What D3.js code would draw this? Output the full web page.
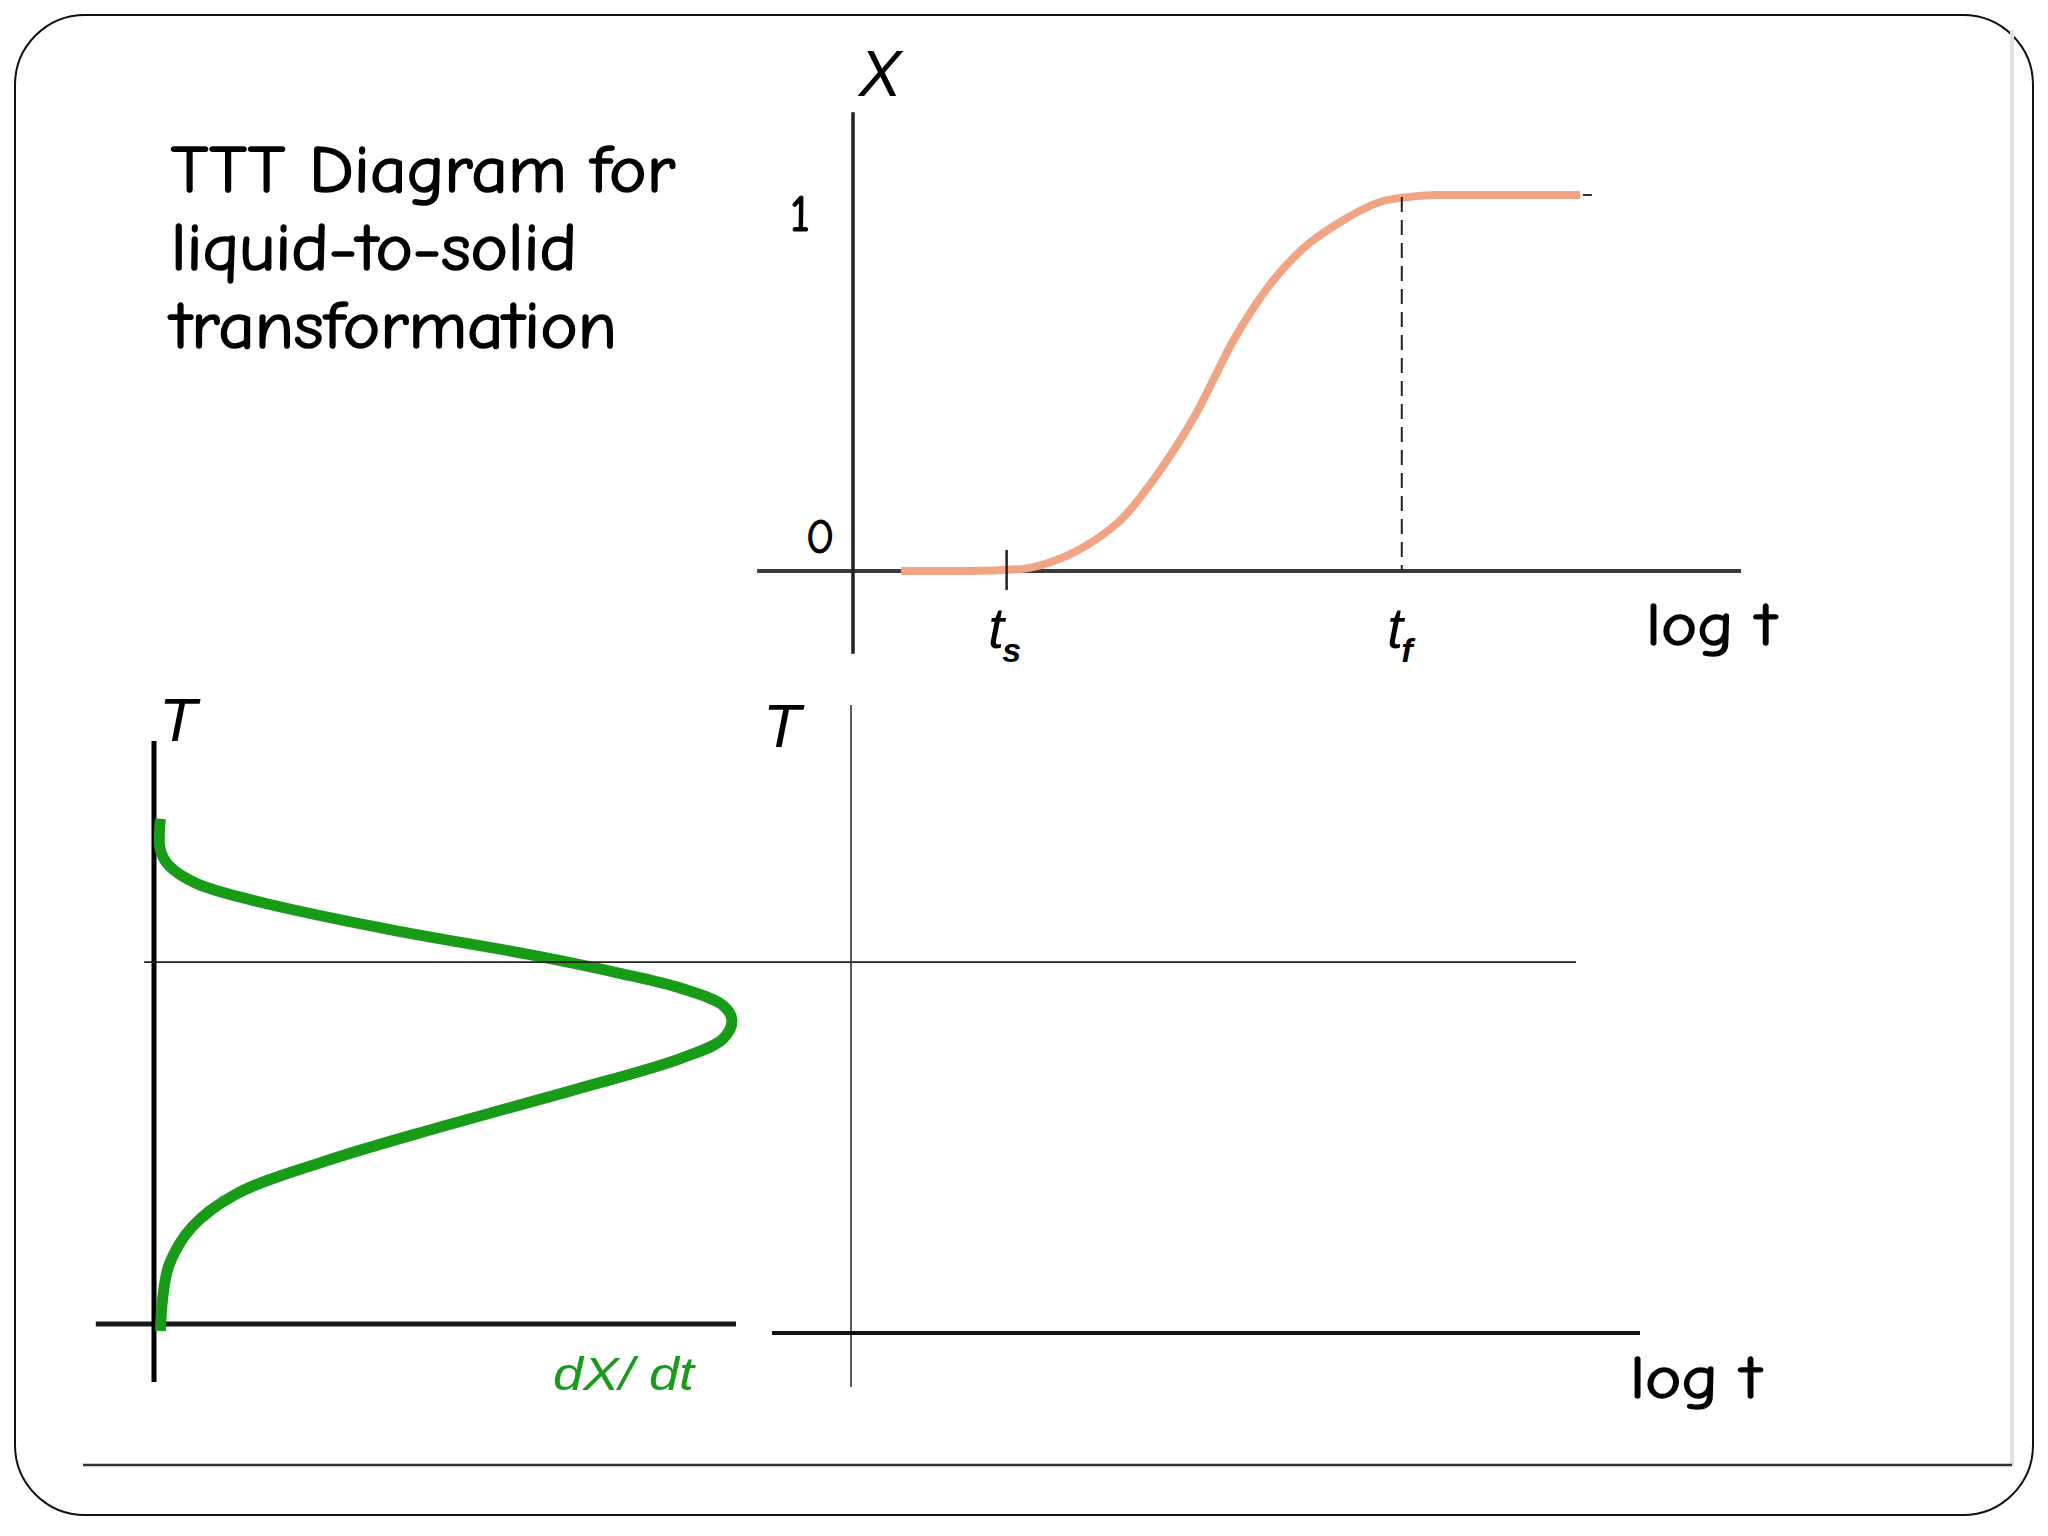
<!DOCTYPE html>
<html>
<head>
<meta charset="utf-8">
<script src="https://cdn.jsdelivr.net/npm/d3@7"></script>
<style>
  html, body { margin: 0; padding: 0; background: #ffffff; }
  svg { display: block; }
</style>
</head>
<body>
<svg id="chart" width="2048" height="1536"></svg>
<script>
// ---------------- DATA ----------------
// Top panel: fraction transformed X vs log t (arbitrary log-time units)
const topLogT = [0.54, 1.30, 1.89, 2.27, 2.73, 3.03, 3.40, 3.85, 4.31, 4.68, 5.06, 5.52, 5.97, 6.27, 6.57, 8.19];
const topX    = [0.000, 0.000, 0.005, 0.027, 0.083, 0.139, 0.248, 0.413, 0.624, 0.757, 0.856, 0.933, 0.984, 0.995, 1.000, 1.000];
const topTickValues = [1.73, 6.18];          // t_s, t_f
const topTickLabels = ["t", "t"];
const topTickSubs   = ["s", "f"];
const topYTickValues = [0, 1];
const topYTickLabels = ["0", "1"];

// Bottom-left panel: transformation rate dX/dt vs temperature T (arbitrary units)
const rateT    = [87.1, 81.7, 79.0, 76.0, 72.8, 67.9, 63.8, 60.6, 57.8, 54.9, 52.4, 49.2, 45.9, 40.2, 33.8, 28.1, 22.4, 16.7, 10.2, 4.5, -1.2];
const rateDXdt = [1.1, 1.1, 2.6, 7.2, 18.0, 41.0, 63.9, 79.4, 90.8, 97.8, 99.3, 97.8, 90.8, 71.6, 48.6, 29.5, 14.1, 6.5, 2.6, 1.5, 1.1];
const refLineT = [62.4];                     // horizontal reference temperature

const titleLines = ["TTT Diagram for", "liquid-to-solid", "transformation"];

// ---------------- DRAWING ----------------
const svg = d3.select("#chart");
const handFont = "'Comic Sans MS','Comic Neue','DejaVu Sans',sans-serif";
const italFont = "'Liberation Sans','Arial',sans-serif";

// slide frame
svg.append("rect").attr("x", 15).attr("y", 15).attr("width", 2018).attr("height", 1500)
  .attr("rx", 70).attr("ry", 70).attr("fill", "#ffffff").attr("stroke", "#111").attr("stroke-width", 2);
svg.append("line").attr("x1", 2012).attr("x2", 2012).attr("y1", 30).attr("y2", 1466)
  .attr("stroke", "#e2e2e2").attr("stroke-width", 4);
svg.append("line").attr("x1", 83).attr("x2", 2012).attr("y1", 1465).attr("y2", 1465)
  .attr("stroke", "#333").attr("stroke-width", 2.5);

// title
const titleW = [504, 406, 446];
svg.append("g").selectAll("text").data(titleLines).join("text")
  .attr("x", 171).attr("y", (d, i) => 192 + i * 78)
  .attr("font-family", handFont).attr("font-size", 66).attr("fill", "#000")
  .attr("stroke", "#000").attr("stroke-width", 1.6)
  .attr("textLength", (d, i) => titleW[i]).attr("lengthAdjust", "spacingAndGlyphs")
  .text(d => d);

// ---------- top panel ----------
const xTop = d3.scaleLinear().domain([0, 10]).range([853, 1741]);
const yTop = d3.scaleLinear().domain([0, 1]).range([571, 195]);
const gTop = svg.append("g");

// axes
gTop.append("line").attr("x1", xTop(-1.08)).attr("x2", xTop(10)).attr("y1", yTop(0)).attr("y2", yTop(0))
  .attr("stroke", "#3a3a3a").attr("stroke-width", 4);
gTop.append("line").attr("x1", xTop(0)).attr("x2", xTop(0)).attr("y1", yTop(1.22)).attr("y2", yTop(-0.22))
  .attr("stroke", "#222").attr("stroke-width", 3.5);

// curve
const topData = topLogT.map((v, i) => ({ t: v, x: topX[i] }));
gTop.append("path").datum(topData)
  .attr("d", d3.line().x(d => xTop(d.t)).y(d => yTop(d.x)).curve(d3.curveMonotoneX))
  .attr("fill", "none").attr("stroke", "#f0a483").attr("stroke-width", 8).attr("stroke-linecap", "butt");
gTop.append("line").attr("x1", xTop(8.22)).attr("x2", xTop(8.32)).attr("y1", yTop(1)).attr("y2", yTop(1))
  .attr("stroke", "#333").attr("stroke-width", 2);

// t_s tick, t_f dashed line
gTop.append("line").attr("x1", xTop(topTickValues[0])).attr("x2", xTop(topTickValues[0]))
  .attr("y1", yTop(0) - 21).attr("y2", yTop(0) + 19).attr("stroke", "#222").attr("stroke-width", 2.5);
gTop.append("line").attr("x1", xTop(topTickValues[1])).attr("x2", xTop(topTickValues[1]))
  .attr("y1", yTop(0.995)).attr("y2", yTop(0)).attr("stroke", "#222").attr("stroke-width", 2)
  .attr("stroke-dasharray", "15,8");

// tick labels t_s, t_f
topTickValues.forEach((v, i) => {
  const t = gTop.append("text").attr("x", xTop(v) - 2).attr("y", 648)
    .attr("font-family", italFont).attr("font-style", "italic").attr("font-size", 58)
    .attr("text-anchor", "middle").attr("fill", "#000");
  t.append("tspan").text(topTickLabels[i]);
  t.append("tspan").attr("font-size", 34).attr("font-weight", "bold").attr("dx", -2).attr("dy", 14).text(topTickSubs[i]);
});

// y tick labels
gTop.append("text").attr("x", 800).attr("y", yTop(1) + 36).attr("text-anchor", "middle")
  .attr("font-family", handFont).attr("font-size", 52).attr("fill", "#000")
  .attr("stroke", "#000").attr("stroke-width", 1.2).text(topYTickLabels[1]);
gTop.append("text").attr("x", 820).attr("y", yTop(0) - 18).attr("text-anchor", "middle")
  .attr("font-family", handFont).attr("font-size", 48).attr("fill", "#000")
  .attr("stroke", "#000").attr("stroke-width", 1).text(topYTickLabels[0]);

// axis labels
gTop.append("text").attr("x", 880).attr("y", 96).attr("text-anchor", "middle")
  .attr("font-family", italFont).attr("font-style", "italic").attr("font-size", 64).attr("fill", "#000").text("X");
gTop.append("text").attr("x", 1646).attr("y", 645)
  .attr("font-family", handFont).attr("font-size", 60).attr("fill", "#000")
  .attr("stroke", "#000").attr("stroke-width", 1.4)
  .attr("textLength", 130).attr("lengthAdjust", "spacingAndGlyphs").text("log t");

// ---------- bottom-left panel ----------
const xRate = d3.scaleLinear().domain([0, 100]).range([154, 736]);
const yT = d3.scaleLinear().domain([0, 100]).range([1324, 744]);
const gBL = svg.append("g");

gBL.append("line").attr("x1", xRate(-10)).attr("x2", xRate(100)).attr("y1", yT(0)).attr("y2", yT(0))
  .attr("stroke", "#1a1a1a").attr("stroke-width", 5);
gBL.append("line").attr("x1", xRate(0)).attr("x2", xRate(0)).attr("y1", yT(100.5)).attr("y2", yT(-10))
  .attr("stroke", "#000").attr("stroke-width", 5);

// horizontal reference line spanning both lower panels
svg.append("line").attr("x1", xRate(-1.7)).attr("x2", 1576).attr("y1", yT(refLineT[0])).attr("y2", yT(refLineT[0]))
  .attr("stroke", "#222").attr("stroke-width", 1.6);

const rateData = rateT.map((v, i) => ({ T: v, r: rateDXdt[i] }));
gBL.append("path").datum(rateData)
  .attr("d", d3.line().x(d => xRate(d.r)).y(d => yT(d.T)).curve(d3.curveCatmullRom.alpha(0.5)))
  .attr("fill", "none").attr("stroke", "#189c18").attr("stroke-width", 11).attr("stroke-linecap", "butt");

gBL.append("text").attr("x", 178).attr("y", 741).attr("text-anchor", "middle")
  .attr("font-family", italFont).attr("font-style", "italic").attr("font-size", 62).attr("fill", "#000").text("T");
gBL.append("text").attr("x", 553).attr("y", 1390)
  .attr("font-family", italFont).attr("font-style", "italic").attr("font-size", 46).attr("fill", "#189c18")
  .attr("textLength", 141).attr("lengthAdjust", "spacingAndGlyphs").text("dX/ dt");

// ---------- bottom-right panel ----------
const xLog2 = d3.scaleLinear().domain([0, 10]).range([851, 1640]);
const gBR = svg.append("g");
gBR.append("line").attr("x1", xLog2(0)).attr("x2", xLog2(0)).attr("y1", 705).attr("y2", 1387)
  .attr("stroke", "#333").attr("stroke-width", 1.6);
gBR.append("line").attr("x1", 772).attr("x2", xLog2(10)).attr("y1", 1333).attr("y2", 1333)
  .attr("stroke", "#111").attr("stroke-width", 4);
gBR.append("text").attr("x", 782).attr("y", 747).attr("text-anchor", "middle")
  .attr("font-family", italFont).attr("font-style", "italic").attr("font-size", 62).attr("fill", "#000").text("T");
gBR.append("text").attr("x", 1630).attr("y", 1398)
  .attr("font-family", handFont).attr("font-size", 60).attr("fill", "#000")
  .attr("stroke", "#000").attr("stroke-width", 1.4)
  .attr("textLength", 131).attr("lengthAdjust", "spacingAndGlyphs").text("log t");
</script>
</body>
</html>
